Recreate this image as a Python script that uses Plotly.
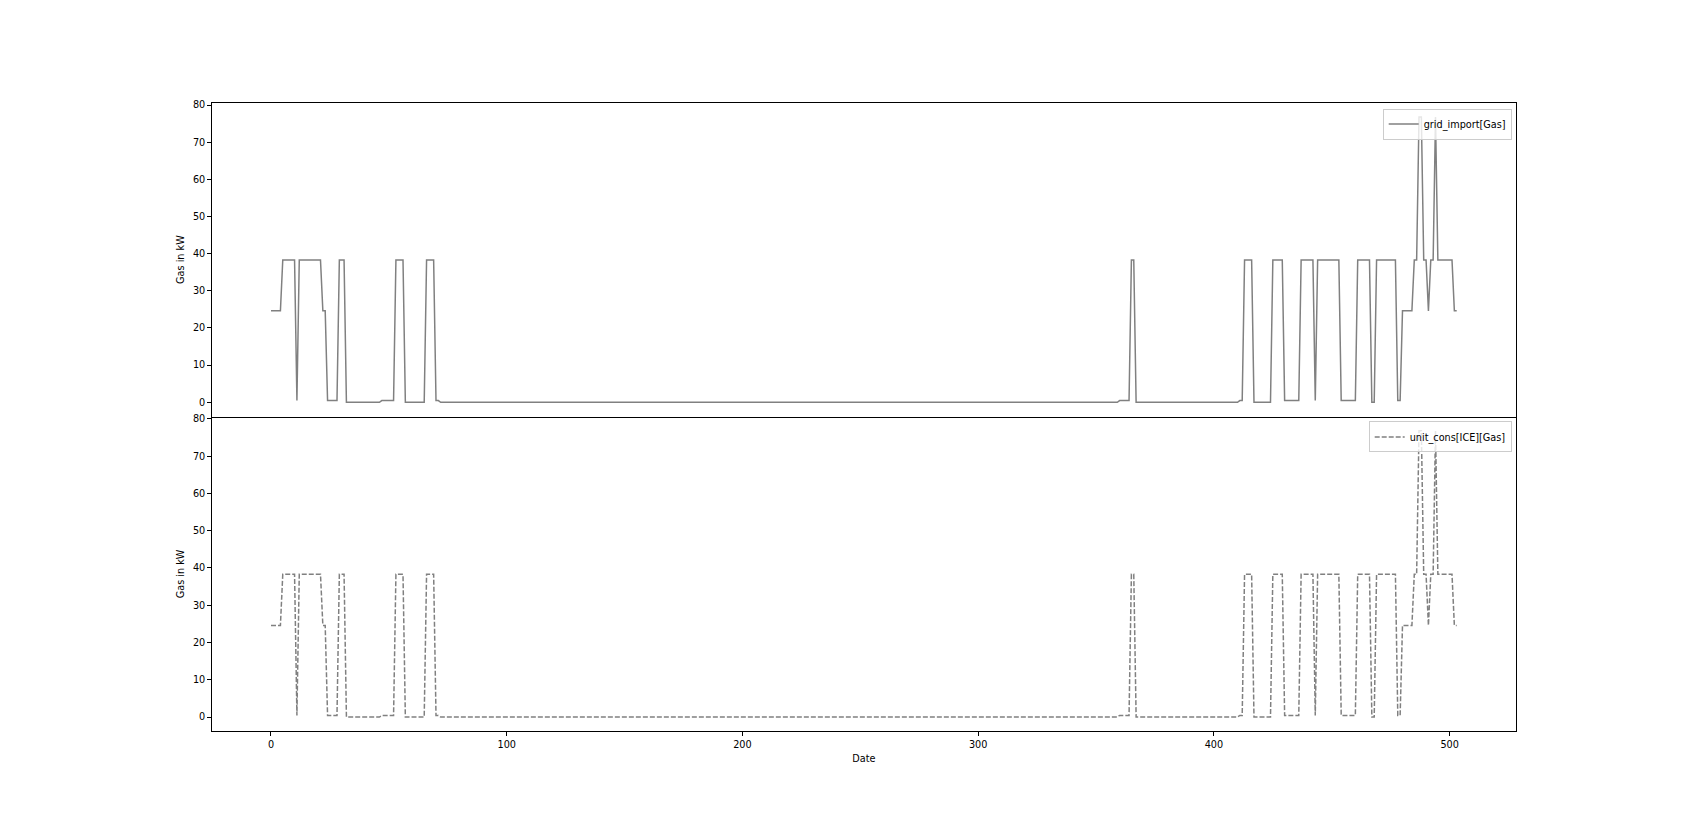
import numpy as np
import plotly.graph_objects as go

# Run-length encoded readings of the series (length of each run, value of the run)
seg_lengths = [5, 6, 1, 10, 2, 5, 3, 15, 6, 4, 9, 4, 2, 288,
               5, 2, 44, 2, 4, 8, 5, 7, 6, 1, 10, 7, 6, 2, 9, 2,
               5, 2, 2, 2, 1, 2, 1, 7, 2]
seg_values = [24.6, 38.3, 0.45, 38.3, 24.6, 0.45, 38.3, 0.0, 0.45, 38.3, 0.0, 38.3, 0.45, 0.0,
              0.45, 38.3, 0.0, 0.45, 38.3, 0.0, 38.3, 0.45, 38.3, 0.45, 38.3, 0.45, 38.3, 0.0, 38.3, 0.45,
              24.6, 38.3, 76.8, 38.3, 24.6, 38.3, 76.8, 38.3, 24.6]

grid_import_gas = np.repeat(seg_values, seg_lengths)
unit_cons_ice_gas = grid_import_gas.copy()
dates = np.arange(len(grid_import_gas))

y_ticks = [0, 10, 20, 30, 40, 50, 60, 70, 80]
x_ticks = [0, 100, 200, 300, 400, 500]

W, H = 1684, 835
left, right = 211.7, 1516.0
top1, mid, bot2 = 100.0, 415.0, 731.0

FONT = dict(family="DejaVu Sans", size=9.7, color="black")
LINE = "#808080"

fig = go.Figure()
fig.add_trace(go.Scatter(x=dates, y=grid_import_gas, mode="lines", name="grid_import[Gas]",
                         line=dict(color=LINE, width=1.5), xaxis="x", yaxis="y", legend="legend"))
fig.add_trace(go.Scatter(x=dates, y=unit_cons_ice_gas, mode="lines", name="unit_cons[ICE][Gas]",
                         line=dict(color=LINE, width=1.5, dash="5px,2px"), xaxis="x2", yaxis="y2",
                         legend="legend2"))

n = len(dates) - 1
xr = [-0.05 * n, n * 1.05]
ymax = float(np.max(grid_import_gas))
yr = [-0.05 * ymax, 1.05 * ymax]

xdom = [left / W, right / W]
axis_common = dict(showgrid=False, zeroline=False, showline=True,
                   linecolor="black", linewidth=1, tickfont=FONT, tickcolor="black",
                   ticklen=3.5, tickwidth=0.8)

leg_common = dict(xanchor="right", yanchor="top", bgcolor="rgba(255,255,255,0.8)",
                  bordercolor="#cccccc", borderwidth=1, font=FONT, itemwidth=30)

fig.update_layout(
    width=W, height=H,
    margin=dict(l=0, r=0, t=0, b=0),
    paper_bgcolor="white", plot_bgcolor="white",
    font=FONT,
    xaxis=dict(domain=xdom, anchor="y", range=xr, showticklabels=False, ticks="",
               mirror=True, **axis_common),
    yaxis=dict(domain=[(H - mid) / H, (H - top1) / H], anchor="x", range=yr,
               tickvals=y_ticks, ticks="outside", mirror=True,
               title=dict(text="Gas in kW", font=FONT, standoff=6), **axis_common),
    xaxis2=dict(domain=xdom, anchor="y2", range=xr, matches="x", tickvals=x_ticks, ticks="outside",
                mirror=False,
                title=dict(text="Date", font=FONT, standoff=6), **axis_common),
    yaxis2=dict(domain=[(H - bot2) / H, (H - mid) / H], anchor="x2", range=yr,
                tickvals=y_ticks, ticks="outside", mirror=True,
                title=dict(text="Gas in kW", font=FONT, standoff=6), **axis_common),
    legend=dict(x=1511.7 / W, y=(H - 106) / H, **leg_common),
    legend2=dict(x=1511.7 / W, y=(H - 420) / H, **leg_common),
    showlegend=True,
)

fig.write_html("out.html")
